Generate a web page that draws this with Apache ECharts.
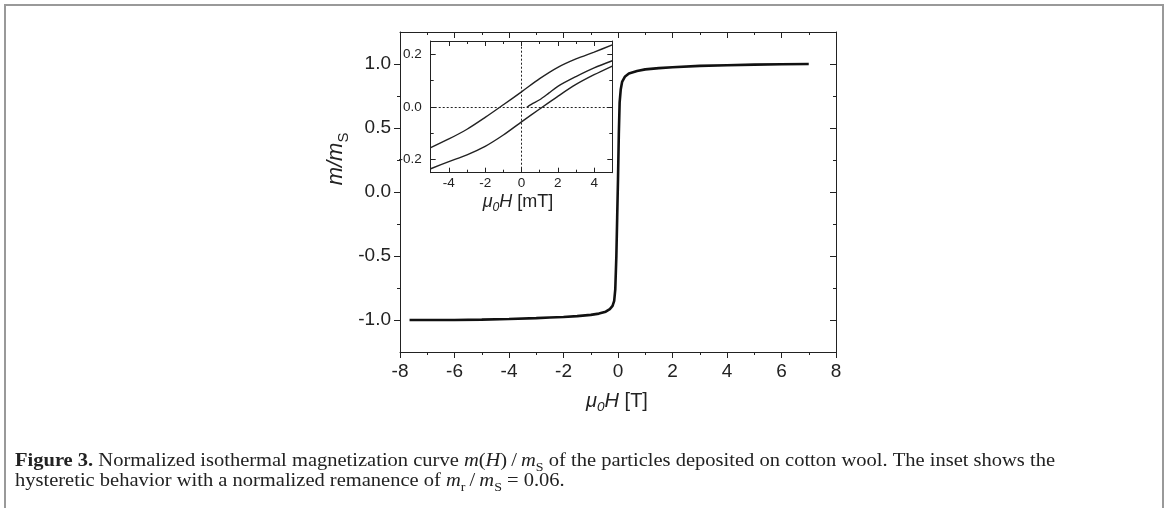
<!DOCTYPE html>
<html><head><meta charset="utf-8">
<script src="https://cdn.jsdelivr.net/npm/echarts@6/dist/echarts.min.js"></script>
<style>html,body{margin:0;padding:0;background:#fff}#c{width:1168px;height:508px}</style>
</head><body><div id="c"></div>
<script>
// ---- data ----
const mainH = [-7.65,-7,-6,-5,-4,-3,-2.5,-2,-1.5,-1,-0.7,-0.45,-0.3,-0.2,-0.14,-0.1,-0.06,-0.03,0,0.03,0.06,0.1,0.15,0.25,0.4,0.7,1.0,1.5,2,3,4,5,6,7];
const mainM = [-1.0,-1.0,-1.0,-0.997,-0.992,-0.985,-0.981,-0.977,-0.97,-0.96,-0.95,-0.935,-0.915,-0.89,-0.85,-0.76,-0.5,-0.2,0.1,0.45,0.7,0.8,0.86,0.9,0.925,0.945,0.958,0.968,0.975,0.985,0.99,0.995,0.998,1.0];
const upH = [-5,-4,-3,-2,-1,0,1,2,3,4,5];
const upM = [-0.155,-0.122,-0.085,-0.04,0.008,0.057,0.107,0.15,0.182,0.208,0.235];
const loH = [-5,-4,-3,-2,-1,0,1,2,3,4,5];
const loM = [-0.235,-0.208,-0.182,-0.15,-0.107,-0.057,-0.008,0.04,0.085,0.122,0.155];
const virH = [0.3,0.4,0.6,1,1.5,2,3,4,5];
const virM = [-0.002,0.004,0.012,0.027,0.052,0.078,0.115,0.148,0.175];
const mainXMajor = [-8,-6,-4,-2,0,2,4,6,8];
const mainXMinor = [-7,-5,-3,-1,1,3,5,7];
const mainYMajor = [-1,-0.5,0,0.5,1];
const mainYMinor = [-0.75,-0.25,0.25,0.75];
const insXMajor = [-4,-2,0,2,4];
const insXMinor = [-3,-1,1,3];
const insYMajor = [-0.2,0,0.2];
const insYMinor = [-0.1,0.1];

// ---- helpers ----
const INK = '#222';
const SANS = '"Liberation Sans", Arial, sans-serif';
const SERIF = '"Liberation Serif", "Times New Roman", serif';
function ax(grid, pos, min, max, vals, len, inside, opts) {
  opts = opts || {};
  return {
    type: 'value', gridIndex: grid, position: pos, min: min, max: max,
    axisLine: {show: !!opts.line, onZero: false, lineStyle: {color: INK, width: 1}},
    axisTick: {show: true, inside: inside, length: len, customValues: vals, lineStyle: {color: INK, width: 1}},
    axisLabel: opts.label ? {show: true, customValues: vals, margin: opts.margin, fontSize: opts.fs,
      color: INK, fontFamily: SANS, formatter: v => v.toFixed(opts.dec)} : {show: false},
    splitLine: {show: false}, minorTick: {show: false}
  };
}
const cv = document.createElement('canvas').getContext('2d');
function fontStr(p, size, fam) {
  return (p.it ? 'italic ' : '') + (p.b ? 'bold ' : '') + size + 'px ' + fam;
}
function pieces(list, base, fam) {
  let x = 0; const ch = [];
  list.forEach(p => {
    const s = base * (p.sub ? 0.68 : 1);
    const f = fontStr(p, s, fam);
    cv.font = f;
    const w = cv.measureText(p.t).width;
    const by = p.sub ? base * 0.22 : 0;
    ch.push({type: 'text', x: x, y: by - 0.35 * s,
      style: {text: p.t, font: f, fill: p.c || INK, align: 'left', verticalAlign: 'middle'}});
    x += w;
  });
  return {children: ch, width: x};
}
function label(list, cx, cy, base, fam, rot) {
  const r = pieces(list, base, fam);
  r.children.forEach(c => { c.x -= r.width / 2; });
  return {type: 'group', x: cx, y: cy, rotation: rot || 0, children: r.children, silent: true};
}
function line(list, x, y, base, fam, sx) {
  const r = pieces(list, base, fam);
  return {type: 'group', x: x, y: y, scaleX: sx || 1, children: r.children, silent: true};
}

// caption
const cap1 = [
  {t: 'Figure 3.', b: true}, {t: ' Normalized isothermal magnetization curve '},
  {t: 'm', it: true}, {t: '('}, {t: 'H', it: true}, {t: ')\u2009/\u2009'}, {t: 'm', it: true}, {t: 'S', sub: true},
  {t: ' of the particles deposited on cotton wool. The inset shows the'}
];
const cap2 = [
  {t: 'hysteretic behavior with a normalized remanence of '},
  {t: 'm', it: true}, {t: 'r', sub: true}, {t: '\u2009/\u2009'}, {t: 'm', it: true}, {t: 'S', sub: true}, {t: ' = 0.06.'}
];
const capTarget = 1040;
const capSize = 18;
const capScale = capTarget / pieces(cap1, capSize, SERIF).width;

const chart = echarts.init(document.getElementById('c'), null, {renderer: 'canvas'});
chart.setOption({
  animation: false,
  backgroundColor: '#fff',
  grid: [
    {left: 400, right: 332, top: 32, bottom: 156, show: false},
    {left: 430.7, right: 555.7, top: 41, bottom: 335.3, show: true, backgroundColor: '#fff', borderWidth: 0}
  ],
  xAxis: [
    ax(0, 'bottom', -8, 8, mainXMajor, 6, false, {line: true, label: true, margin: 10, fs: 19, dec: 0}),
    ax(0, 'bottom', -8, 8, mainXMinor, 3, false),
    ax(0, 'top', -8, 8, mainXMajor, 6, true, {line: true}),
    ax(0, 'top', -8, 8, mainXMinor, 3, true),
    ax(1, 'bottom', -5, 5, insXMajor, 5, true, {line: true, label: true, margin: 4, fs: 13.5, dec: 0}),
    ax(1, 'bottom', -5, 5, insXMinor, 3, true),
    ax(1, 'top', -5, 5, insXMajor, 5, true, {line: true}),
    ax(1, 'top', -5, 5, insXMinor, 3, true)
  ],
  yAxis: [
    ax(0, 'left', -1.25, 1.25, mainYMajor, 6, false, {line: true, label: true, margin: 9, fs: 19, dec: 1}),
    ax(0, 'left', -1.25, 1.25, mainYMinor, 3, false),
    ax(0, 'right', -1.25, 1.25, mainYMajor, 6, true, {line: true}),
    ax(0, 'right', -1.25, 1.25, mainYMinor, 3, true),
    ax(1, 'left', -0.25, 0.25, insYMajor, 5, true, {line: true, label: true, margin: 9, fs: 13.5, dec: 1}),
    ax(1, 'left', -0.25, 0.25, insYMinor, 3, true),
    ax(1, 'right', -0.25, 0.25, insYMajor, 5, true, {line: true}),
    ax(1, 'right', -0.25, 0.25, insYMinor, 3, true)
  ],
  series: [
    {type: 'line', xAxisIndex: 0, yAxisIndex: 0, data: mainH.map((h, i) => [h, mainM[i]]),
      showSymbol: false, lineStyle: {color: '#111', width: 2.6}, z: 3},
    {type: 'line', xAxisIndex: 4, yAxisIndex: 4, data: upH.map((h, i) => [h, upM[i]]), smooth: 0.3,
      showSymbol: false, lineStyle: {color: INK, width: 1.4}, z: 6,
      markLine: {silent: true, symbol: 'none', label: {show: false},
        lineStyle: {color: INK, width: 1, type: [2, 2]}, data: [{xAxis: 0}, {yAxis: 0}]}},
    {type: 'line', xAxisIndex: 4, yAxisIndex: 4, data: loH.map((h, i) => [h, loM[i]]), smooth: 0.3,
      showSymbol: false, lineStyle: {color: INK, width: 1.4}, z: 6},
    {type: 'line', xAxisIndex: 4, yAxisIndex: 4, data: virH.map((h, i) => [h, virM[i]]), smooth: 0.3,
      showSymbol: false, lineStyle: {color: INK, width: 1.4}, z: 6}
  ],
  graphic: [
    {type: 'polyline', shape: {points: [[5, 508], [5, 5], [1163, 5], [1163, 508]]},
      style: {stroke: '#999', lineWidth: 2, fill: null}, silent: true},
    label([{t: '\u03bc', it: true}, {t: '0', it: true, sub: true}, {t: 'H', it: true}, {t: ' [T]'}], 617, 408, 20, SANS),
    label([{t: '\u03bc', it: true}, {t: '0', it: true, sub: true}, {t: 'H', it: true}, {t: ' [mT]'}], 518, 208, 18, SANS),
    label([{t: 'm/m', it: true}, {t: 'S', sub: true}], 344, 159, 22, SANS, Math.PI / 2),
    line(cap1, 15, 468, capSize, SERIF, capScale),
    line(cap2, 15, 488, capSize, SERIF, capScale)
  ]
});
</script></body></html>
